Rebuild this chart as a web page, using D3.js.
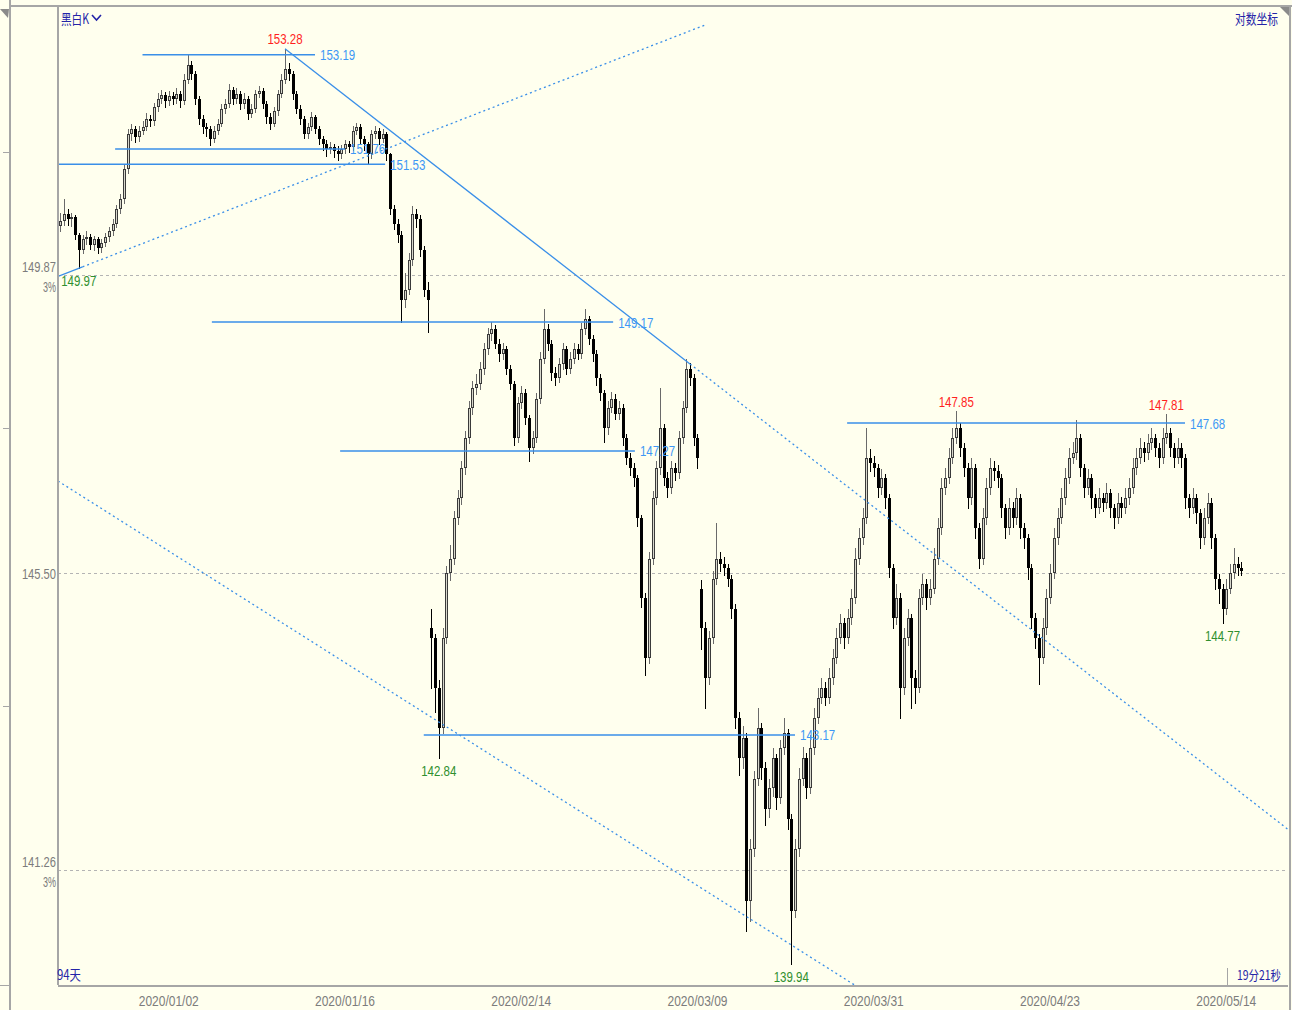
<!DOCTYPE html>
<html><head><meta charset="utf-8">
<script src="https://cdn.jsdelivr.net/npm/d3@7"></script>
<style>html,body{margin:0;padding:0;background:#FFFFEE;}svg{display:block}</style>
</head><body>
<svg id="c" width="1292" height="1010"></svg>
<script>
// ---------------- DATA ----------------
const opens=[150.60,150.67,150.78,150.70,150.73,150.47,150.25,150.40,150.43,150.32,
150.40,150.28,150.35,150.43,150.52,150.63,150.85,151.00,151.46,151.98,
152.06,151.94,152.03,152.09,152.21,152.18,152.39,152.51,152.57,152.48,
152.56,152.51,152.59,152.48,152.81,153.04,152.89,152.51,152.21,152.09,
152.06,151.91,152.03,152.14,152.36,152.44,152.66,152.51,152.59,152.44,
152.51,152.29,152.36,152.59,152.63,152.44,152.24,152.14,152.33,152.59,
152.81,152.97,152.89,152.59,152.36,152.21,151.98,152.09,152.24,152.06,
151.91,151.83,151.76,151.79,151.73,151.68,151.76,151.83,151.79,152.03,
152.09,151.91,151.83,151.68,151.98,152.03,151.91,151.98,151.68,150.85,
150.63,150.47,149.50,149.65,150.10,150.78,150.70,150.25,149.65,144.70,
144.55,143.84,143.27,144.55,145.49,145.70,146.29,146.58,147.02,147.46,
147.90,148.19,148.26,148.48,148.77,148.99,149.07,148.85,148.70,148.77,
148.48,148.26,147.46,147.97,148.12,147.75,147.31,147.46,148.04,148.63,
149.07,148.85,148.41,148.34,148.55,148.77,148.48,148.63,148.77,148.70,
149.07,149.21,148.92,148.70,148.34,148.12,147.60,147.90,148.04,147.82,
147.90,147.46,147.17,147.02,146.87,146.29,145.13,144.27,145.70,146.58,
147.02,147.60,146.87,146.73,147.02,146.95,147.46,147.90,148.48,148.34,
147.46,145.27,144.70,143.98,144.55,145.41,145.70,145.63,145.56,145.41,
144.98,143.41,142.84,143.13,140.83,141.55,142.55,143.27,142.70,142.12,
142.41,142.84,142.27,142.98,143.20,141.98,140.69,141.55,142.55,142.84,
142.41,142.98,143.41,143.70,143.84,143.70,143.98,144.27,144.55,144.77,
144.55,144.84,145.13,145.70,146.00,146.29,147.17,147.09,147.02,146.73,
146.87,146.58,145.56,144.84,145.13,143.84,144.55,144.84,143.98,143.84,
145.13,145.34,145.13,145.27,145.70,146.14,146.73,146.87,147.17,147.46,
147.60,147.31,147.02,146.58,147.02,146.14,145.70,146.29,146.73,147.02,
146.98,146.87,146.44,146.14,146.44,146.29,146.58,146.14,146.00,145.56,
144.84,144.55,144.27,144.70,145.13,145.49,146.00,146.29,146.58,146.87,
147.17,147.24,147.46,147.02,146.73,146.87,146.58,146.44,146.58,146.51,
146.65,146.44,146.29,146.51,146.44,146.58,146.73,147.02,147.17,147.31,
147.24,147.38,147.46,147.31,147.17,147.46,147.53,147.31,147.17,147.31,
147.17,146.58,146.44,146.58,146.36,146.00,146.29,146.51,146.00,145.41,
145.27,144.98,145.27,145.49,145.63,145.56];
const highs=[150.80,151.00,150.85,150.80,150.76,150.50,150.46,150.52,150.48,150.45,
150.44,150.40,150.50,150.58,150.70,150.92,151.08,151.52,152.06,152.14,
152.10,152.10,152.18,152.30,152.28,152.46,152.60,152.66,152.62,152.64,
152.62,152.68,152.64,152.90,153.19,153.10,152.94,152.56,152.28,152.16,
152.10,152.10,152.22,152.44,152.52,152.74,152.70,152.68,152.64,152.60,
152.56,152.44,152.66,152.72,152.68,152.48,152.30,152.40,152.66,152.90,
153.28,153.06,152.94,152.64,152.42,152.26,152.16,152.32,152.28,152.10,
151.96,151.90,151.86,151.84,151.80,151.82,151.90,151.88,152.10,152.16,
152.14,151.96,151.86,152.04,152.10,152.08,152.06,152.02,151.70,150.92,
150.70,150.52,149.90,150.20,150.90,150.86,150.76,150.30,149.76,144.98,
144.62,143.95,144.70,145.60,145.90,146.40,146.70,147.12,147.56,148.00,
148.30,148.40,148.58,148.86,149.08,149.17,149.12,148.92,148.86,148.82,
148.54,148.30,148.06,148.22,148.18,147.80,147.56,148.12,148.72,149.36,
149.14,148.90,148.50,148.64,148.86,148.82,148.72,148.86,148.84,149.16,
149.36,149.26,148.98,148.76,148.40,148.16,148.00,148.14,148.10,148.00,
147.96,147.52,147.24,147.10,146.92,146.34,145.20,145.80,146.68,147.12,
148.19,147.66,146.96,147.12,147.10,147.56,148.00,148.63,148.56,148.40,
147.52,145.40,144.78,144.66,145.52,146.22,145.80,145.72,145.62,145.46,
145.04,143.50,143.30,143.20,141.70,142.66,143.55,143.34,142.78,142.55,
142.98,142.90,143.10,143.41,143.26,142.05,141.70,142.70,143.00,142.92,
143.17,143.55,143.84,143.98,143.92,144.12,144.40,144.70,144.90,144.84,
144.98,145.27,145.85,146.14,146.44,147.60,147.30,147.20,147.08,147.00,
146.94,146.64,145.62,145.34,145.20,144.70,144.98,144.90,144.10,145.27,
145.48,145.41,145.41,145.85,146.29,146.87,147.02,147.31,147.60,147.85,
147.68,147.38,147.10,147.17,147.08,146.22,146.44,146.87,147.17,147.12,
147.06,146.94,146.50,146.58,146.52,146.73,146.64,146.22,146.06,145.62,
144.92,144.62,144.84,145.27,145.62,146.14,146.44,146.73,147.02,147.31,
147.40,147.72,147.52,147.08,147.00,146.94,146.64,146.73,146.66,146.80,
146.72,146.50,146.66,146.60,146.73,146.87,147.17,147.31,147.46,147.40,
147.52,147.60,147.52,147.38,147.60,147.81,147.60,147.38,147.46,147.38,
147.22,146.64,146.73,146.64,146.42,146.44,146.66,146.58,146.06,145.48,
145.34,145.41,145.62,145.85,145.72,145.65];
const lows=[150.52,150.62,150.62,150.60,150.40,149.97,150.20,150.33,150.26,150.25,
150.20,150.22,150.30,150.38,150.47,150.58,150.80,150.95,151.40,151.90,
151.86,151.88,151.98,152.04,152.10,152.12,152.34,152.45,152.40,152.42,
152.44,152.46,152.40,152.44,152.76,152.82,152.44,152.14,152.00,151.96,
151.82,151.86,151.98,152.10,152.30,152.40,152.44,152.46,152.36,152.38,
152.22,152.24,152.32,152.54,152.38,152.16,152.06,152.10,152.28,152.54,
152.76,152.80,152.52,152.30,152.14,151.92,151.92,152.04,152.00,151.84,
151.74,151.66,151.70,151.64,151.60,151.62,151.70,151.72,151.74,151.98,
151.84,151.74,151.53,151.62,151.92,151.84,151.86,151.60,150.78,150.55,
150.36,149.17,149.40,149.58,150.02,150.58,150.16,149.56,149.02,143.84,
143.50,142.84,143.20,144.48,145.40,145.62,146.20,146.50,146.94,147.38,
147.82,148.10,148.18,148.40,148.70,148.90,148.78,148.60,148.62,148.40,
148.18,147.36,147.40,147.90,147.66,147.12,147.24,147.40,147.98,148.56,
148.76,148.32,148.24,148.28,148.48,148.40,148.42,148.56,148.62,148.64,
149.00,148.84,148.60,148.24,148.02,147.40,147.52,147.84,147.74,147.74,
147.36,147.08,146.92,146.76,146.18,145.00,144.02,144.20,145.62,146.50,
146.94,146.78,146.60,146.66,146.84,146.88,147.38,147.84,148.24,147.36,
147.02,144.40,143.55,143.90,144.48,145.34,145.52,145.46,145.30,144.84,
143.27,142.60,142.70,140.40,140.55,141.46,142.46,142.55,141.90,142.00,
142.30,142.12,142.20,142.90,141.84,139.94,140.60,141.46,142.46,142.27,
142.34,142.90,143.34,143.62,143.60,143.62,143.90,144.20,144.48,144.41,
144.48,144.76,145.06,145.62,145.92,146.22,146.98,146.90,146.60,146.64,
146.44,145.44,144.70,144.76,143.41,143.76,144.46,143.55,143.62,143.78,
145.04,144.98,145.04,145.20,145.62,146.06,146.64,146.80,147.10,147.38,
147.20,146.90,146.44,146.50,146.00,145.56,145.62,146.20,146.64,146.84,
146.74,146.30,146.00,146.06,146.16,146.20,146.00,145.85,145.41,144.70,
144.41,143.90,144.20,144.62,145.06,145.42,145.92,146.22,146.50,146.80,
147.10,147.16,146.90,146.60,146.64,146.44,146.30,146.36,146.40,146.44,
146.30,146.14,146.22,146.30,146.36,146.50,146.66,146.94,147.10,147.12,
147.16,147.30,147.20,147.04,147.10,147.38,147.20,147.04,147.10,147.04,
146.44,146.30,146.36,146.22,145.85,145.92,146.22,145.85,145.27,145.06,
144.77,144.90,145.20,145.42,145.46,145.46];
const closes=[150.67,150.78,150.70,150.73,150.47,150.25,150.40,150.43,150.32,150.40,
150.28,150.35,150.43,150.52,150.63,150.85,151.00,151.46,151.98,152.06,
151.94,152.03,152.09,152.21,152.18,152.39,152.51,152.57,152.48,152.56,
152.51,152.59,152.48,152.81,153.04,152.89,152.51,152.21,152.09,152.06,
151.91,152.03,152.14,152.36,152.44,152.66,152.51,152.59,152.44,152.51,
152.29,152.36,152.59,152.63,152.44,152.24,152.14,152.33,152.59,152.81,
152.97,152.89,152.59,152.36,152.21,151.98,152.09,152.24,152.06,151.91,
151.83,151.76,151.79,151.73,151.68,151.76,151.83,151.79,152.03,152.09,
151.91,151.83,151.68,151.98,152.03,151.91,151.98,151.68,150.85,150.63,
150.47,149.50,149.65,150.10,150.78,150.70,150.25,149.65,149.50,144.55,
143.84,143.27,144.55,145.49,145.70,146.29,146.58,147.02,147.46,147.90,
148.19,148.26,148.48,148.77,148.99,149.07,148.85,148.70,148.77,148.48,
148.26,147.46,147.97,148.12,147.75,147.31,147.46,148.04,148.63,149.07,
148.85,148.41,148.34,148.55,148.77,148.48,148.63,148.77,148.70,149.07,
149.21,148.92,148.70,148.34,148.12,147.60,147.90,148.04,147.82,147.90,
147.46,147.17,147.02,146.87,146.29,145.13,144.27,145.70,146.58,147.02,
147.60,146.87,146.73,147.02,146.95,147.46,147.90,148.48,148.34,147.46,
147.17,144.70,143.98,144.55,145.41,145.70,145.63,145.56,145.41,144.98,
143.41,142.84,143.13,140.83,141.55,142.55,143.27,142.70,142.12,142.41,
142.84,142.27,142.98,143.20,141.98,140.69,141.55,142.55,142.84,142.41,
142.98,143.41,143.70,143.84,143.70,143.98,144.27,144.55,144.77,144.55,
144.84,145.13,145.70,146.00,146.29,147.17,147.09,147.02,146.73,146.87,
146.58,145.56,144.84,145.13,143.84,144.55,144.84,143.98,143.84,145.13,
145.34,145.13,145.27,145.70,146.14,146.73,146.87,147.17,147.46,147.60,
147.31,147.02,146.58,147.02,146.14,145.70,146.29,146.73,147.02,146.98,
146.87,146.44,146.14,146.44,146.29,146.58,146.14,146.00,145.56,144.84,
144.55,144.27,144.70,145.13,145.49,146.00,146.29,146.58,146.87,147.17,
147.24,147.46,147.02,146.73,146.87,146.58,146.44,146.58,146.51,146.65,
146.44,146.29,146.51,146.44,146.58,146.73,147.02,147.17,147.31,147.24,
147.38,147.46,147.31,147.17,147.46,147.53,147.31,147.17,147.31,147.17,
146.58,146.44,146.58,146.36,146.00,146.29,146.51,146.00,145.41,145.27,
144.98,145.27,145.49,145.63,145.56,145.53];

const dateTickIndex=[29,76,123,170,217,264,311];
const dateTickLabels=["2020/01/02","2020/01/16","2020/02/14","2020/03/09","2020/03/31","2020/04/23","2020/05/14"];

const gridLevels=[149.87,145.50,141.26];
const gridPctLabels=["3%","","3%"];

// horizontal support/resistance lines: price, from bar index, to bar index
const levelPrices=[153.19,151.76,151.53,149.17,147.27,143.17,147.68];
const levelFrom=[22,14.7,-0.5,40.5,74.7,97,209.9];
const levelTo=[68,76,86.7,147.5,153.3,196,300];

// annotated extremes: bar index and type
const markIndex=[60,5,101,195,239,295,310];
const markKind=["high","low","low","low","high","high","low"];

// trend lines: two anchor points (bar index, price)
const trendA=[[60,153.28],[168,148.55]];
const trendB=[[5,149.97],[86,151.74]];
const trendC=[[-0.5,146.83],[212,139.65]];

// ---------------- DRAW ----------------
const W=1292,H=1010;
const L=58,R=1288,T=7,B=985;
const N=closes.length;
const svg=d3.select("#c");
const BG="#FFFFEE";
svg.append("rect").attr("width",W).attr("height",H).attr("fill",BG);

const x=d3.scaleLinear().domain([0,N-1]).range([60,60+3.75*(N-1)]);
const y=d3.scaleLog().domain([141.26,149.87]).range([870,275]);

const NARROW='"Liberation Sans Narrow","Arial Narrow","Liberation Sans",Arial,sans-serif';
const CJK='"Noto Sans CJK SC","Noto Sans CJK JP",sans-serif';
function tw(s,dw){let w=0;for(const ch of s){if(ch==='.')w+=dw*0.5;else if(ch==='/')w+=dw*0.55;else if(ch==='%')w+=dw*1.4;else w+=dw;}return w;}

svg.append("defs").append("clipPath").attr("id","clip")
  .append("rect").attr("x",L).attr("y",T).attr("width",R-L).attr("height",B-T);

// grid
const grid=svg.append("g");
gridLevels.forEach((v,k)=>{
  const yy=Math.round(y(v))+0.5;
  grid.append("line").attr("x1",L).attr("x2",R).attr("y1",yy).attr("y2",yy)
    .attr("stroke","#b4b4b4").attr("stroke-width",1).attr("stroke-dasharray","3,3");
  const hasPct=gridPctLabels[k]!=="";
  const ty=hasPct? yy-9 : yy;
  grid.append("text").attr("x",56).attr("y",ty).attr("text-anchor","end")
    .attr("dominant-baseline","central").attr("font-family",NARROW).attr("font-size",14)
    .attr("fill","#7c7c7c").attr("textLength",tw(v.toFixed(2),6.2)).attr("lengthAdjust","spacingAndGlyphs")
    .text(v.toFixed(2));
  if(hasPct){
    grid.append("text").attr("x",56).attr("y",yy+11).attr("text-anchor","end")
      .attr("dominant-baseline","central").attr("font-family",NARROW).attr("font-size",14)
      .attr("fill","#7c7c7c").attr("textLength",13).attr("lengthAdjust","spacingAndGlyphs")
      .text(gridPctLabels[k]);
  }
});

const plot=svg.append("g").attr("clip-path","url(#clip)");

// candles
const bars=closes.map((c,i)=>({i,o:opens[i],h:highs[i],l:lows[i],c}));
const cg=plot.append("g").attr("shape-rendering","crispEdges");
bars.forEach(d=>{
  const cx=Math.round(x(d.i));
  const up=d.c>=d.o;
  cg.append("line").attr("x1",cx+0.5).attr("x2",cx+0.5)
    .attr("y1",Math.round(y(d.h))).attr("y2",Math.round(y(d.l))+1)
    .attr("stroke",up?"#6a6a6a":"#000").attr("stroke-width",1);
  const yt=Math.round(y(Math.max(d.o,d.c))), yb=Math.round(y(Math.min(d.o,d.c)));
  const hgt=Math.max(1,yb-yt);
  if(up){
    cg.append("rect").attr("x",cx-0.5).attr("y",yt+0.5).attr("width",2).attr("height",Math.max(0.5,hgt-1))
      .attr("fill","#d8d8cc").attr("stroke","#3a3a3a").attr("stroke-width",1);
  }else{
    cg.append("rect").attr("x",cx-1).attr("y",yt).attr("width",3).attr("height",hgt).attr("fill","#000");
  }
});

// trend lines
const BLUE="#3a8fe8";
function trend(anc,xFrom,xTo,dash){
  const p1=[x(anc[0][0]),y(anc[0][1])],p2=[x(anc[1][0]),y(anc[1][1])];
  const s=(p2[1]-p1[1])/(p2[0]-p1[0]);
  const ya=p1[1]+s*(xFrom-p1[0]), yb=p1[1]+s*(xTo-p1[0]);
  const ln=plot.append("line").attr("x1",xFrom).attr("y1",ya).attr("x2",xTo).attr("y2",yb)
    .attr("stroke",BLUE).attr("stroke-width",1.3);
  if(dash) ln.attr("stroke-dasharray","2,3");
}
trend(trendA,x(trendA[0][0]),x(trendA[1][0]),false);
trend(trendA,x(trendA[1][0]),R+2,true);
trend(trendB,L,x(6),false);
trend(trendB,x(6),x(172),true);
trend(trendC,L,x(235),true);

// horizontal levels
const lg=svg.append("g");
levelPrices.forEach((p,k)=>{
  const yy=y(p);
  const x1=Math.max(L,x(levelFrom[k])), x2=x(levelTo[k]);
  lg.append("line").attr("x1",x1).attr("x2",x2).attr("y1",yy).attr("y2",yy)
    .attr("stroke",BLUE).attr("stroke-width",1.5);
  lg.append("text").attr("x",x2+5).attr("y",yy).attr("dominant-baseline","central")
    .attr("font-family",NARROW).attr("font-size",15).attr("fill","#3d97f5")
    .attr("textLength",tw(p.toFixed(2),6.4)).attr("lengthAdjust","spacingAndGlyphs")
    .text(p.toFixed(2));
});

// extreme marks
markIndex.forEach((i,k)=>{
  const isHigh=markKind[k]==="high";
  const v=isHigh?highs[i]:lows[i];
  const yy=isHigh? y(v)-10 : y(v)+12;
  lg.append("text").attr("x",x(i)).attr("y",yy).attr("text-anchor","middle").attr("dominant-baseline","central")
    .attr("font-family",NARROW).attr("font-size",15).attr("fill",isHigh?"#ff1f1f":"#2f8f2f")
    .attr("textLength",tw(v.toFixed(2),6.4)).attr("lengthAdjust","spacingAndGlyphs")
    .text(v.toFixed(2));
});

// date labels
dateTickIndex.forEach((i,k)=>{
  svg.append("text").attr("x",x(i)).attr("y",1000).attr("text-anchor","middle").attr("dominant-baseline","central")
    .attr("font-family",NARROW).attr("font-size",15).attr("fill","#7c7c7c")
    .attr("textLength",tw(dateTickLabels[k],6.6)).attr("lengthAdjust","spacingAndGlyphs")
    .text(dateTickLabels[k]);
});

// frames
const FR="#a6a6a6";
const fr=svg.append("g").attr("stroke",FR).attr("shape-rendering","crispEdges");
fr.append("line").attr("x1",10).attr("x2",10).attr("y1",0).attr("y2",H).attr("stroke-width",2);
fr.append("line").attr("x1",10).attr("x2",W).attr("y1",6).attr("y2",6).attr("stroke-width",2);
fr.append("line").attr("x1",L).attr("x2",L).attr("y1",6).attr("y2",B).attr("stroke-width",2);
fr.append("line").attr("x1",L).attr("x2",R).attr("y1",B+0.5).attr("y2",B+0.5).attr("stroke-width",2);
fr.append("line").attr("x1",1290).attr("x2",1290).attr("y1",6).attr("y2",H).attr("stroke-width",2);
fr.append("line").attr("x1",0).attr("x2",9).attr("y1",B+0.5).attr("y2",B+0.5).attr("stroke-width",1);
[152,428,706].forEach(v=>fr.append("line").attr("x1",3).attr("x2",9).attr("y1",v+0.5).attr("y2",v+0.5).attr("stroke-width",1));
fr.append("line").attr("x1",1227.5).attr("x2",1227.5).attr("y1",968).attr("y2",B).attr("stroke-width",1);
svg.append("polygon").attr("points","0,9 9,9 8,18").attr("fill","#8a8a8a");
svg.append("polygon").attr("points","1280,7 1289,7 1289,16").attr("fill","#8a8a8a");

// corner texts
const NAVY="#2424a8";
svg.append("text").attr("x",61).attr("y",18).attr("dominant-baseline","central").attr("font-family",CJK)
  .attr("font-size",14).attr("fill",NAVY).attr("textLength",28).attr("lengthAdjust","spacingAndGlyphs").text("黑白K");
svg.append("polyline").attr("points","92,15 96.5,20 101,15").attr("fill","none").attr("stroke",NAVY).attr("stroke-width",1.6);
svg.append("text").attr("x",1278).attr("y",18).attr("text-anchor","end").attr("dominant-baseline","central").attr("font-family",CJK)
  .attr("font-size",14).attr("fill",NAVY).attr("textLength",43).attr("lengthAdjust","spacingAndGlyphs").text("对数坐标");
svg.append("text").attr("x",57).attr("y",974).attr("dominant-baseline","central").attr("font-family",CJK)
  .attr("font-size",14).attr("fill",NAVY).attr("textLength",24).attr("lengthAdjust","spacingAndGlyphs").text("94天");
svg.append("text").attr("x",1237).attr("y",974).attr("dominant-baseline","central").attr("font-family",CJK)
  .attr("font-size",13).attr("fill",NAVY).attr("textLength",44).attr("lengthAdjust","spacingAndGlyphs").text("19分21秒");
</script>
</body></html>
